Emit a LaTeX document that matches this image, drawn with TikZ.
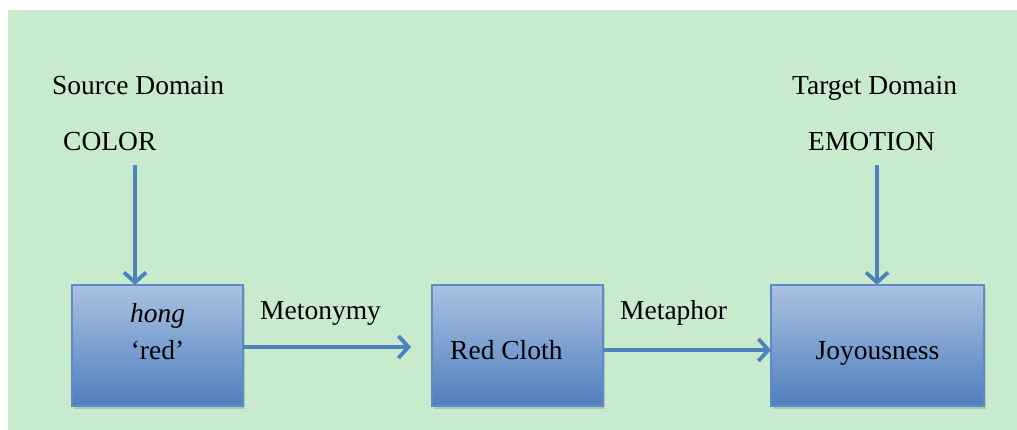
\documentclass[tikz,border=0pt]{standalone}
\usepackage{fontspec}
\setmainfont{Liberation Serif}
\usetikzlibrary{arrows.meta,shadows}
\definecolor{panelgreen}{RGB}{199,235,204}
\definecolor{boxtop}{RGB}{170,193,226}
\definecolor{boxbottom}{RGB}{79,127,190}
\definecolor{boxedge}{RGB}{95,140,200}
\definecolor{arrowblue}{RGB}{79,129,189}
\tikzset{
  stagebox/.style={draw=boxedge, line width=1.2pt, top color=boxtop, bottom color=boxbottom,
    minimum width=171pt, minimum height=121pt, inner sep=0pt, outer sep=0pt,
    drop shadow={shadow xshift=1.5pt, shadow yshift=-3pt, opacity=0.25, fill=black!60}},
  lbl/.style={anchor=base west, inner sep=0pt, font=\fontsize{27.5}{33}\selectfont},
  clbl/.style={anchor=base, inner sep=0pt, font=\fontsize{27.5}{33}\selectfont},
  flow/.style={draw=arrowblue, line width=3.8pt,
    -{Straight Barb[length=10pt, width=22pt, line width=3.8pt]}},
}
\begin{document}
\begin{tikzpicture}[x=1pt, y=-1pt]
  \useasboundingbox (0,0) rectangle (1017,430);
  \fill[white] (0,0) rectangle (1017,430);
  \fill[panelgreen] (8,10) rectangle (1017,430);

  % domain headings
  \node[lbl] (src) at (52,94.5) {Source Domain};
  \node[lbl] (color) at (63,151) {COLOR};
  \node[lbl] (tgt) at (792,94.5) {Target Domain};
  \node[lbl] (emotion) at (808,151) {EMOTION};

  % the three stages
  \node[stagebox] (hong) at (157.5,345.5) {};
  \node[stagebox] (cloth) at (517.5,345.5) {};
  \node[stagebox, minimum width=213pt] (joy) at (877.5,345.5) {};

  \node[clbl] (hongword) at (157.5,323) {\itshape hong};
  \node[clbl] (redword) at (157.5,359) {‘red’};
  \node[lbl] (clothword) at (450,359) {Red Cloth};
  \node[clbl] (joyword) at (877.5,359) {Joyousness};

  % link labels
  \node[lbl] (meto) at (260,319.5) {Metonymy};
  \node[lbl] (meta) at (620,319.5) {Metaphor};

  % connectors
  \coordinate (colorfoot) at (135,165);
  \coordinate (emofoot) at (877,165);
  \coordinate (metoend) at (411,347);
  \coordinate (metarow) at (0,350);
  \draw[flow] (colorfoot) -- (colorfoot |- hong.north);
  \draw[flow] (emofoot) -- (emofoot |- joy.north);
  \draw[flow] (hong.east |- metoend) -- (metoend);
  \draw[flow] (cloth.east |- metarow) -- (joy.west |- metarow);
\end{tikzpicture}
\end{document}
